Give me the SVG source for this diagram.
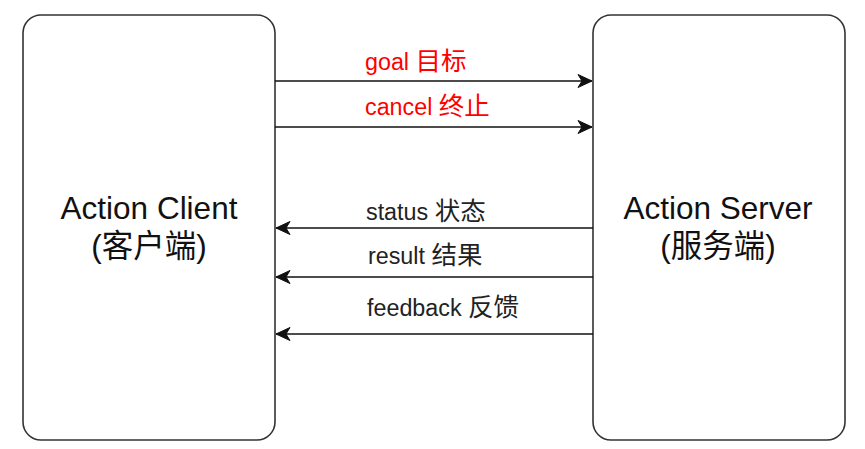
<svg xmlns="http://www.w3.org/2000/svg" width="865" height="449" viewBox="0 0 865 449">
<defs>
<style>
.box{fill:#fff;stroke:#333;stroke-width:1.6}
.big{font-family:"Liberation Sans","Noto Sans CJK SC",sans-serif;font-size:31.5px;fill:#111;text-anchor:middle}
.lbl{font-family:"Liberation Sans","Noto Sans CJK SC",sans-serif;font-size:23.3px;fill:#222}
.cjk{font-size:25.5px}
.red{fill:#ff0000}
.ln{stroke:#111;stroke-width:1.5;fill:none;marker-end:url(#ah)}
</style>
<marker id="ah" markerUnits="userSpaceOnUse" viewBox="-15 -7 16 14" refX="0" refY="0" markerWidth="16" markerHeight="14" orient="auto">
<path d="M-14,-6.5 L0,0 L-14,6.5 L-10,0 Z" fill="#111" stroke="#111" stroke-width="1"/>
</marker>
</defs>
<g id="client">
<rect class="box" x="23" y="15" width="252" height="425" rx="18" ry="18"/>
<text class="big" x="149" y="219">Action Client</text>
<text class="big" x="149" y="257">(客户端)</text>
</g>
<g id="server">
<rect class="box" x="593" y="15" width="252" height="425" rx="18" ry="18"/>
<text class="big" x="718" y="219">Action Server</text>
<text class="big" x="718" y="257">(服务端)</text>
</g>
<g id="connectors">
<line class="ln" x1="275" y1="81" x2="592" y2="81"/>
<line class="ln" x1="275" y1="127" x2="592" y2="127"/>
<line class="ln" x1="593" y1="228" x2="276" y2="228"/>
<line class="ln" x1="593" y1="277" x2="276" y2="277"/>
<line class="ln" x1="593" y1="334" x2="276" y2="334"/>
<text class="lbl red" x="365" y="70">goal <tspan class="cjk">目标</tspan></text>
<text class="lbl red" x="365" y="115">cancel <tspan class="cjk">终止</tspan></text>
<text class="lbl" x="366" y="220">status <tspan class="cjk">状态</tspan></text>
<text class="lbl" x="368" y="264">result <tspan class="cjk">结果</tspan></text>
<text class="lbl" x="367" y="316">feedback <tspan class="cjk">反馈</tspan></text>
</g>
</svg>
